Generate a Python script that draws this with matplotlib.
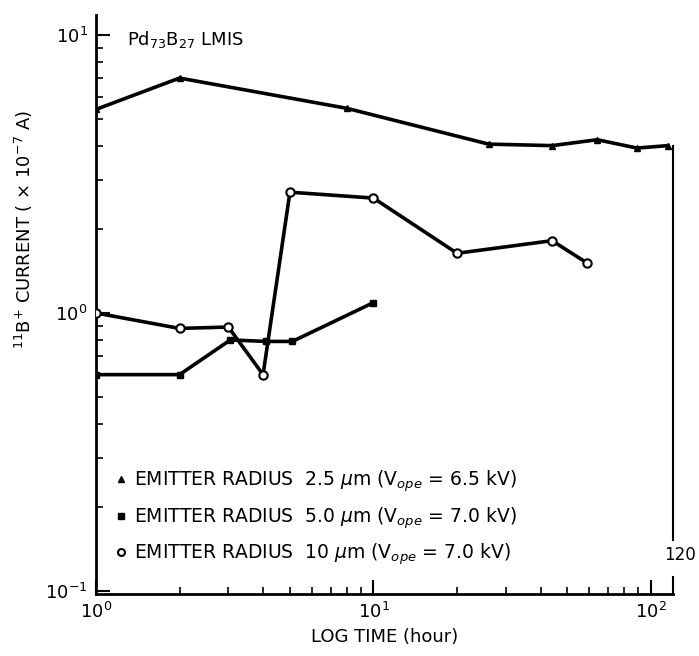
import matplotlib.pyplot as plt
from matplotlib.lines import Line2D
from matplotlib.ticker import LogLocator, NullFormatter

plt.switch_backend("Agg")

# Pd73B27 LMIS, 11B+ current vs time
t_25 = [1, 2, 8, 26, 44, 64, 89, 115]
i_25 = [5.4, 7.0, 5.45, 4.05, 4.0, 4.2, 3.92, 4.0]

t_50 = [1, 2, 3.05, 4.1, 5.1, 10]
i_50 = [0.60, 0.60, 0.80, 0.79, 0.79, 1.09]

t_10 = [1, 2, 3, 4, 5, 10, 20, 44, 59]
i_10 = [1.0, 0.88, 0.89, 0.60, 2.72, 2.59, 1.64, 1.82, 1.51]

labels = [
    r"EMITTER RADIUS  2.5 $\mu$m (V$_{ope}$ = 6.5 kV)",
    r"EMITTER RADIUS  5.0 $\mu$m (V$_{ope}$ = 7.0 kV)",
    r"EMITTER RADIUS  10 $\mu$m (V$_{ope}$ = 7.0 kV)",
]
t_end = 120

fig = plt.figure(figsize=(6.99, 6.56), dpi=100)
ax = fig.add_axes([0.1373, 0.0945, 0.8255, 0.8826])

lw = 2.6
ax.plot(t_25, i_25, color="black", lw=lw, marker="^", ms=4, mfc="black", zorder=3)
ax.plot(t_50, i_50, color="black", lw=lw, marker="s", ms=4, mfc="black", zorder=3)
ax.plot(t_10, i_10, color="black", lw=lw, marker="o", ms=6, mfc="white", mew=1.5, zorder=4)

ax.set_xscale("log")
ax.set_yscale("log")
ax.set_xlim(1, t_end)
ax.set_ylim(0.0975, 11.8)

# end-of-test marker at 120 h
ax.plot([t_end, t_end], [i_25[-1], 0.153], color="black", lw=1.5, clip_on=False)
ax.plot([t_end, t_end], [0.0975, 0.112], color="black", lw=1.5, clip_on=False)
ax.text(t_end * 1.06, 0.135, str(t_end), ha="center", va="center", fontsize=12, clip_on=False)

for s in ["top", "right"]:
    ax.spines[s].set_visible(False)
ax.spines["left"].set_linewidth(2)
ax.spines["bottom"].set_linewidth(2)

ax.xaxis.set_major_locator(LogLocator(base=10, numticks=5))
ax.xaxis.set_minor_locator(LogLocator(base=10, subs=range(2, 10), numticks=20))
ax.yaxis.set_major_locator(LogLocator(base=10, numticks=5))
ax.yaxis.set_minor_locator(LogLocator(base=10, subs=range(2, 10), numticks=20))
ax.xaxis.set_minor_formatter(NullFormatter())
ax.yaxis.set_minor_formatter(NullFormatter())
ax.tick_params(which="major", direction="in", length=10, width=1.5, labelsize=13, pad=6)
ax.tick_params(which="minor", direction="in", length=5, width=1.2)

ax.set_xlabel("LOG TIME (hour)", fontsize=13, labelpad=4)
ax.set_ylabel(r"$^{11}$B$^{+}$ CURRENT ( $\times$ 10$^{-7}$ A)", fontsize=13, labelpad=10)
ax.yaxis.set_label_coords(-0.105, 0.63)

ax.text(0.054, 0.957, r"Pd$_{73}$B$_{27}$ LMIS", transform=ax.transAxes,
        fontsize=13, ha="left", va="center")

handles = [
    Line2D([], [], ls="none", marker="^", ms=5, color="black"),
    Line2D([], [], ls="none", marker="s", ms=4, color="black"),
    Line2D([], [], ls="none", marker="o", ms=5, mfc="white", mew=1.5, color="black"),
]
ax.legend(handles, labels, loc="upper left", bbox_to_anchor=(0.02, 0.23), frameon=False,
          fontsize=13.5, handlelength=0.6, handletextpad=0.4, labelspacing=0.6, borderaxespad=0)

fig.savefig("out.png", dpi=100)
plt.close(fig)
